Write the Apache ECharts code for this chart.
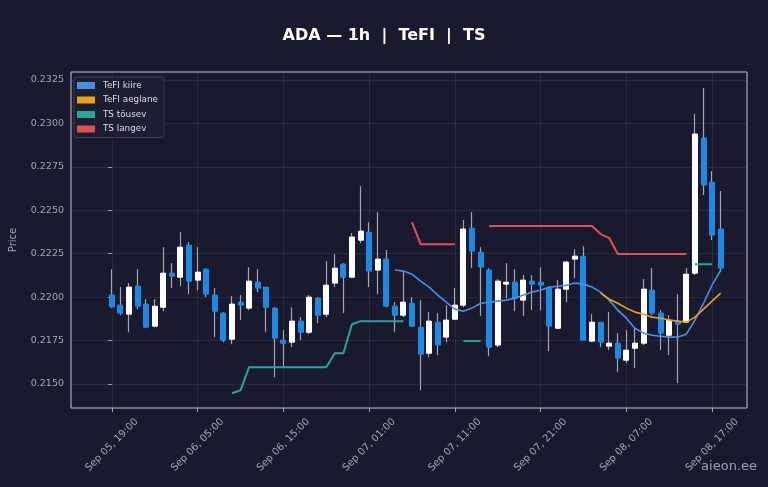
<!DOCTYPE html>
<html>
<head>
<meta charset="utf-8">
<script src="https://cdn.jsdelivr.net/npm/echarts@6/dist/echarts.min.js"></script>
<style>
  html, body { margin: 0; padding: 0; background: #1a1a2e; }
  #chart { width: 768px; height: 487px; }
</style>
</head>
<body>
<div id="chart"></div>
<script>
const _ = null;

// hour index 0 = Sep 05, 19:00
const tickHours = [0, 10, 20, 30, 40, 50, 60, 70];
const tickLabels = ['Sep 05, 19:00', 'Sep 06, 05:00', 'Sep 06, 15:00', 'Sep 07, 01:00',
                    'Sep 07, 11:00', 'Sep 07, 21:00', 'Sep 08, 07:00', 'Sep 08, 17:00'];
const priceTicks = [0.215, 0.2175, 0.22, 0.2225, 0.225, 0.2275, 0.23, 0.2325];

const candleOpen = [
  0.22012, 0.21954, 0.21902, 0.22063, 0.21960, 0.21833, 0.21942, 0.22138, 0.22115, 0.22300, 0.22098, 0.22161,
  0.22012, 0.21908, 0.21758, 0.21971, 0.21937, 0.22086, 0.22058, 0.21937, 0.21752, 0.21741, 0.21862, 0.21798,
  0.21994, 0.21902, 0.22081, 0.22190, 0.22115, 0.22328, 0.22374, 0.22156, 0.22219, 0.21948, 0.21896, 0.21965,
  0.21827, 0.21677, 0.21856, 0.21770, 0.21873, 0.21954, 0.22397, 0.22259, 0.22156, 0.21724, 0.22075, 0.22086,
  0.21983, 0.22092, 0.22086, 0.22052, 0.21821, 0.22046, 0.22219, 0.22236, 0.21747, 0.21856, 0.21718, 0.21735,
  0.21637, 0.21706, 0.21735, 0.22040, 0.21908, 0.21781, 0.21856, 0.21856, 0.22138, 0.22916, 0.22662, 0.22392
];
const candleClose = [
  0.21944, 0.21908, 0.22058, 0.21948, 0.21827, 0.21948, 0.22138, 0.22121, 0.22288, 0.22092, 0.22144, 0.22017,
  0.21919, 0.21752, 0.21960, 0.21954, 0.22092, 0.22052, 0.21942, 0.21764, 0.21735, 0.21862, 0.21798, 0.22000,
  0.21896, 0.22069, 0.22167, 0.22115, 0.22346, 0.22380, 0.22150, 0.22219, 0.21948, 0.21896, 0.21971, 0.21833,
  0.21672, 0.21862, 0.21724, 0.21868, 0.21954, 0.22392, 0.22265, 0.22173, 0.21712, 0.22092, 0.22086, 0.21994,
  0.22098, 0.22075, 0.22069, 0.21833, 0.22046, 0.22202, 0.22236, 0.21752, 0.21856, 0.21741, 0.21735, 0.21649,
  0.21695, 0.21735, 0.22046, 0.21908, 0.21793, 0.21868, 0.21844, 0.22132, 0.22939, 0.22645, 0.22357, 0.22167
];
const candleLow = [
  0.21937, 0.21896, 0.21798, 0.21931, 0.21821, 0.21827, 0.21919, 0.22052, 0.22063, 0.22017, 0.22040, 0.22000,
  0.21770, 0.21741, 0.21729, 0.21868, 0.21925, 0.22029, 0.21798, 0.21539, 0.21591, 0.21712, 0.21752, 0.21787,
  0.21850, 0.21885, 0.22058, 0.21908, 0.22110, 0.22311, 0.22058, 0.22017, 0.21942, 0.21798, 0.21885, 0.21827,
  0.21464, 0.21654, 0.21666, 0.21741, 0.21868, 0.21942, 0.22167, 0.21891, 0.21660, 0.21712, 0.21994, 0.21919,
  0.21891, 0.21925, 0.21925, 0.21689, 0.21816, 0.21971, 0.22109, 0.21752, 0.21741, 0.21712, 0.21695, 0.21568,
  0.21620, 0.21591, 0.21724, 0.21896, 0.21695, 0.21666, 0.21505, 0.21856, 0.22127, 0.22588, 0.22328, 0.22144
];
const candleHigh = [
  0.22161, 0.22058, 0.22081, 0.22161, 0.21988, 0.21988, 0.22288, 0.22196, 0.22374, 0.22317, 0.22288, 0.22167,
  0.22052, 0.21914, 0.22006, 0.22012, 0.22173, 0.22161, 0.22058, 0.21942, 0.21810, 0.21942, 0.21885, 0.22012,
  0.22000, 0.22207, 0.22248, 0.22196, 0.22369, 0.22639, 0.22432, 0.22490, 0.22271, 0.21971, 0.22144, 0.22000,
  0.21983, 0.21914, 0.21908, 0.21954, 0.22052, 0.22444, 0.22490, 0.22288, 0.22167, 0.22104, 0.22196, 0.22161,
  0.22127, 0.22127, 0.22173, 0.22058, 0.22098, 0.22207, 0.22276, 0.22294, 0.21902, 0.21856, 0.21914, 0.21793,
  0.21810, 0.21821, 0.22104, 0.22167, 0.21925, 0.21896, 0.22017, 0.22167, 0.23054, 0.23204, 0.22726, 0.22611
];

const tefiFast = [
  _, _, _, _, _, _, _, _, _, _, _, _,
  _, _, _, _, _, _, _, _, _, _, _, _,
  _, _, _, _, _, _, _, _, _, 0.22156, 0.22150, 0.22132,
  0.22092, 0.22058, 0.22012, 0.21971, 0.21931, 0.21919, 0.21937, 0.21965, 0.21971, 0.21977, 0.21983, 0.21994,
  0.22012, 0.22029, 0.22040, 0.22058, 0.22063, 0.22069, 0.22081, 0.22075, 0.22058, 0.22029, 0.21983, 0.21925,
  0.21879, 0.21821, 0.21793, 0.21781, 0.21775, 0.21770, 0.21770, 0.21787, 0.21868, 0.21965, 0.22069, 0.22156
];
const tefiSlow = [
  _, _, _, _, _, _, _, _, _, _, _, _,
  _, _, _, _, _, _, _, _, _, _, _, _,
  _, _, _, _, _, _, _, _, _, _, _, _,
  _, _, _, _, _, _, _, _, _, _, _, _,
  _, _, _, _, _, _, _, _, _, 0.22023, 0.21988, 0.21965,
  0.21937, 0.21914, 0.21902, 0.21885, 0.21879, 0.21868, 0.21862, 0.21856, 0.21885, 0.21931, 0.21977, 0.22023
];
const tsUp = [
  _, _, _, _, _, _, _, _, _, _, _, _,
  _, _, 0.21447, 0.21464, 0.21597, 0.21597, 0.21597, 0.21597, 0.21597, 0.21597, 0.21597, 0.21597,
  0.21597, 0.21597, 0.21677, 0.21677, 0.21844, 0.21862, 0.21862, 0.21862, 0.21862, 0.21862, 0.21862, _,
  _, _, _, _, _, 0.21747, 0.21747, 0.21747, _, _, _, _,
  _, _, _, _, _, _, _, _, _, _, _, _,
  _, _, _, _, _, _, _, _, 0.22190, 0.22190, 0.22190, _
];
const tsDown = [
  _, _, _, _, _, _, _, _, _, _, _, _,
  _, _, _, _, _, _, _, _, _, _, _, _,
  _, _, _, _, _, _, _, _, _, _, _, 0.22432,
  0.22305, 0.22305, 0.22305, 0.22305, 0.22305, _, _, _, 0.22409, 0.22409, 0.22409, 0.22409,
  0.22409, 0.22409, 0.22409, 0.22409, 0.22409, 0.22409, 0.22409, 0.22409, 0.22409, 0.22363, 0.22340, 0.22248,
  0.22248, 0.22248, 0.22248, 0.22248, 0.22248, 0.22248, 0.22248, 0.22248, _, _, _, _
];

const UP = '#ffffff', DOWN = '#1e88e5', WICK = '#a4a4b4';
const C_FAST = '#4a90e2', C_SLOW = '#e8a317', C_UP = '#26a69a', C_DOWN = '#e05252';

const wickData = candleOpen.map((o, i) => [i, o, candleClose[i], candleLow[i], candleHigh[i]]);
const bodyData = candleOpen.map((o, i) => {
  const c = candleClose[i];
  return [i, o, c, Math.min(o, c), Math.max(o, c)];
});
const toLine = arr => arr.map((v, i) => [i, v == null ? '-' : v]);

const lineSeries = (name, arr, color, width) => ({
  name: name,
  type: 'line',
  data: toLine(arr),
  symbol: 'none',
  connectNulls: false,
  z: 5,
  lineStyle: { color: color, width: width },
  itemStyle: { color: color }
});

const myChart = echarts.init(document.getElementById('chart'));
myChart.setOption({
  animation: false,
  backgroundColor: '#1a1a2e',
  textStyle: { fontFamily: 'DejaVu Sans' },
  title: {
    text: 'ADA — 1h  |  TeFI  |  TS',
    left: 'center',
    top: 23,
    textStyle: { color: '#ffffff', fontSize: 16, fontWeight: 'bold', fontFamily: 'DejaVu Sans' }
  },
  legend: {
    data: ['TeFI kiire', 'TeFI aeglane', 'TS tõusev', 'TS langev'],
    orient: 'vertical',
    left: 74,
    top: 77,
    icon: 'rect',
    itemWidth: 18,
    itemHeight: 7,
    itemGap: 5.5,
    padding: [4, 6, 4, 3],
    backgroundColor: '#1e1e33',
    borderColor: '#3c3c52',
    borderWidth: 1,
    borderRadius: 3,
    textStyle: { color: '#dcdce4', fontSize: 8.8, fontFamily: 'DejaVu Sans', padding: [0, 0, 0, 3] }
  },
  grid: {
    left: 69, right: 21, top: 72, bottom: 79,
    show: true,
    borderColor: '#c4c4cc',
    borderWidth: 1,
    backgroundColor: 'transparent'
  },
  xAxis: {
    type: 'value',
    min: -4.77,
    max: 74.07,
    axisLine: { show: false },
    axisTick: { show: true, customValues: tickHours, length: 4, lineStyle: { color: '#a0a0ae' } },
    axisLabel: {
      customValues: tickHours,
      rotate: 45,
      align: 'center',
      verticalAlign: 'middle',
      color: '#a4a4b2',
      fontSize: 10,
      margin: 37,
      formatter: v => tickLabels[tickHours.indexOf(Math.round(v))] || ''
    },
    splitLine: { show: true, lineStyle: { color: 'rgba(255,255,255,0.07)', width: 1 } }
  },
  yAxis: {
    type: 'value',
    min: 0.21362,
    max: 0.23296,
    name: 'Price',
    nameLocation: 'middle',
    nameGap: 53,
    nameRotate: 90,
    nameTextStyle: { color: '#a4a4b2', fontSize: 10 },
    axisLine: { show: false },
    axisTick: { show: true, customValues: priceTicks, length: 4, lineStyle: { color: '#a0a0ae' } },
    axisLabel: {
      customValues: priceTicks,
      color: '#a4a4b2',
      fontSize: 9.5,
      margin: 7,
      formatter: v => v.toFixed(4)
    },
    splitLine: { show: true, lineStyle: { color: 'rgba(255,255,255,0.07)', width: 1 } }
  },
  graphic: [{
    type: 'text',
    right: 11,
    bottom: 14,
    style: { text: 'aieon.ee', fill: 'rgba(200,200,212,0.75)', fontSize: 13, fontFamily: 'DejaVu Sans' }
  }],
  series: [
    {
      name: 'wick',
      type: 'candlestick',
      data: wickData,
      encode: { x: 0, y: [1, 2, 3, 4] },
      barWidth: 0.3,
      z: 2,
      itemStyle: { color: WICK, color0: WICK, borderColor: WICK, borderColor0: WICK, borderWidth: 1.2 }
    },
    {
      name: 'body',
      type: 'candlestick',
      data: bodyData,
      encode: { x: 0, y: [1, 2, 3, 4] },
      barWidth: 5.5,
      z: 3,
      itemStyle: { color: UP, color0: DOWN, borderColor: UP, borderColor0: DOWN, borderWidth: 1 }
    },
    lineSeries('TeFI kiire', tefiFast, C_FAST, 1.6),
    lineSeries('TeFI aeglane', tefiSlow, C_SLOW, 1.6),
    lineSeries('TS tõusev', tsUp, C_UP, 2),
    lineSeries('TS langev', tsDown, C_DOWN, 2)
  ]
});
</script>
</body>
</html>
